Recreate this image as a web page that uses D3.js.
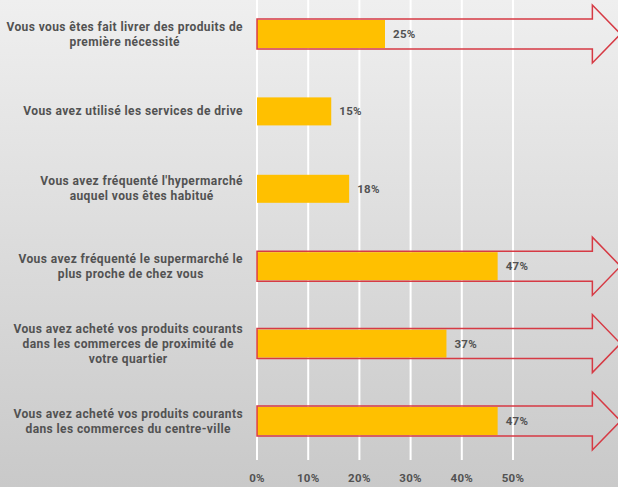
<!DOCTYPE html>
<html>
  <head>
    <meta charset="utf-8">
    <title>Bar chart</title>
    <script src="https://cdnjs.cloudflare.com/ajax/libs/d3/7.8.5/d3.min.js"></script>
    <style type="text/css">
      body {
          margin: 0;
          overflow: hidden;
      }
      .label, .value, .tick-label {
          font-family: Roboto, "Noto Sans", sans-serif;
          font-weight: bold;
          fill: #525252;
      }
      .label {
          font-size: 12px;
          letter-spacing: 0.4px;
      }
      .value, .tick-label {
          font-size: 11.5px;
          letter-spacing: 0.3px;
      }
    </style>
  </head>
  <body>
    <script>
      // Data
      var categories = [
          ["Vous vous êtes fait livrer des produits de", "première nécessité"],
          ["Vous avez utilisé les services de drive"],
          ["Vous avez fréquenté l'hypermarché", "auquel vous êtes habitué"],
          ["Vous avez fréquenté le supermarché le", "plus proche de chez vous"],
          ["Vous avez acheté vos produits courants", "dans les commerces de proximité de", "votre quartier"],
          ["Vous avez acheté vos produits courants", "dans les commerces du centre-ville"]
      ];
      var values = [25, 14.5, 18, 47, 37, 47];
      var highlighted = [true, false, false, true, true, true];
      var ticks = [0, 10, 20, 30, 40, 50];

      var svgWidth = 618;
      var svgHeight = 487;
      var labelRight = 243;

      var svg = d3.select("body")
                  .append("svg")
                  .attr("width", svgWidth)
                  .attr("height", svgHeight);

      // Background gradient
      var grad = svg.append("defs")
                    .append("linearGradient")
                    .attr("id", "bg")
                    .attr("x1", 0).attr("y1", 0)
                    .attr("x2", 0).attr("y2", 1);
      grad.append("stop").attr("offset", "0%").attr("stop-color", "#efefef");
      grad.append("stop").attr("offset", "100%").attr("stop-color", "#c9c9c9");

      svg.append("rect")
         .attr("width", svgWidth)
         .attr("height", svgHeight)
         .attr("fill", "url(#bg)");

      var ids = categories.map(function(d, i) { return i; });

      var xScale = d3.scaleLinear()
                     .domain([0, 50])
                     .range([257, 513]);

      var yScale = d3.scaleBand()
                     .domain(ids)
                     .range([-4.7, 459.7])
                     .paddingInner(0.638)
                     .paddingOuter(0.319);

      // Gridlines
      svg.selectAll(".grid")
         .data(ticks)
         .enter()
         .append("line")
         .attr("class", "grid")
         .attr("x1", function(d) { return xScale(d); })
         .attr("x2", function(d) { return xScale(d); })
         .attr("y1", 0)
         .attr("y2", 460)
         .attr("stroke", "#ffffff")
         .attr("stroke-width", 2);

      // Tick labels
      svg.selectAll(".tick-label")
         .data(ticks)
         .enter()
         .append("text")
         .attr("class", "tick-label")
         .attr("x", function(d) { return xScale(d); })
         .attr("y", 482)
         .attr("text-anchor", "middle")
         .text(function(d) { return d + "%"; });

      // Bars
      svg.selectAll(".bar")
         .data(ids)
         .enter()
         .append("rect")
         .attr("class", "bar")
         .attr("x", xScale(0))
         .attr("y", function(d) { return yScale(d); })
         .attr("width", function(d) { return xScale(values[d]) - xScale(0); })
         .attr("height", yScale.bandwidth())
         .attr("fill", "#ffc000");

      // Arrows around highlighted bars
      var headBase = xScale(65.5);
      var tip = xScale(71);
      svg.selectAll(".arrow")
         .data(ids.filter(function(d) { return highlighted[d]; }))
         .enter()
         .append("path")
         .attr("class", "arrow")
         .attr("fill", "none")
         .attr("stroke", "#d63a44")
         .attr("stroke-width", 1.5)
         .attr("d", function(d) {
             var mid = yScale(d) + yScale.bandwidth() / 2;
             var shaft = yScale.bandwidth() / 2 + 1;
             var head = 29;
             var p = d3.path();
             p.moveTo(xScale(0), mid - shaft);
             p.lineTo(headBase, mid - shaft);
             p.lineTo(headBase, mid - head);
             p.lineTo(tip, mid);
             p.lineTo(headBase, mid + head);
             p.lineTo(headBase, mid + shaft);
             p.lineTo(xScale(0), mid + shaft);
             p.closePath();
             return p.toString();
         });

      // Value labels
      svg.selectAll(".value")
         .data(ids)
         .enter()
         .append("text")
         .attr("class", "value")
         .attr("x", function(d) { return xScale(values[d]) + 8; })
         .attr("y", function(d) { return yScale(d) + yScale.bandwidth() / 2 + 4; })
         .text(function(d) { return Math.round(values[d]) + "%"; });

      // Category labels, centred lines in a right-aligned block
      var lineHeight = 15;
      ids.forEach(function(d) {
          var lines = categories[d];
          var mid = yScale(d) + yScale.bandwidth() / 2;
          var g = svg.append("text")
                     .attr("class", "label")
                     .attr("text-anchor", "middle");
          lines.forEach(function(line, i) {
              g.append("tspan")
               .attr("y", mid + 4 + (i - (lines.length - 1) / 2) * lineHeight)
               .text(line);
          });
          var maxWidth = d3.max(g.selectAll("tspan").nodes(), function(n) {
              return n.getComputedTextLength();
          });
          g.selectAll("tspan").attr("x", labelRight - maxWidth / 2);
      });
    </script>
  </body>
</html>
